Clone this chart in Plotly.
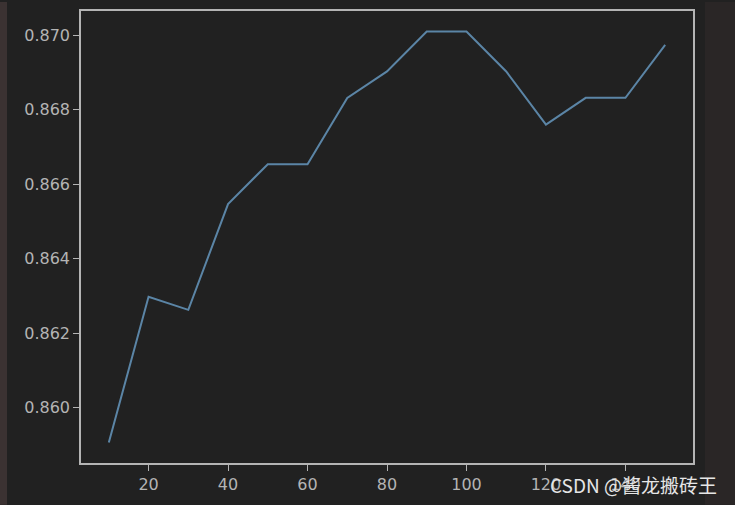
import plotly.graph_objects as go

n_estimators = [10, 20, 30, 40, 50, 60, 70, 80, 90, 100, 110, 120, 130, 140, 150]
scores = [0.85907, 0.86298, 0.86263, 0.86547, 0.86654, 0.86654, 0.86832, 0.86903,
          0.87010, 0.87010, 0.86903, 0.86760, 0.86832, 0.86832, 0.86974]
x_ticks = [20, 40, 60, 80, 100, 120, 140]
y_ticks = [0.860, 0.862, 0.864, 0.866, 0.868, 0.870]

BG = "#212121"
AX = "#b4b4b4"

fig = go.Figure()
fig.add_trace(go.Scatter(x=n_estimators, y=scores, mode="lines",
                         line=dict(color="#5b85a6", width=2), showlegend=False))

L, R, T, B = 81, 42, 9, 42
W, H = 735, 505
pw, ph = W - L - R, H - T - B

def px(x):
    return (x - L) / pw

def py(y):
    return (H - B - y) / ph

shapes = [
    dict(type="rect", xref="paper", yref="paper", x0=px(0), x1=px(7), y0=py(H), y1=py(0),
         fillcolor="#3b3232", line=dict(width=0), layer="below"),
    dict(type="rect", xref="paper", yref="paper", x0=px(705), x1=px(W), y0=py(H), y1=py(0),
         fillcolor="#2a2626", line=dict(width=0), layer="below"),
]

fig.update_layout(
    width=W, height=H,
    margin=dict(l=L, r=R, t=T, b=B, pad=0),
    paper_bgcolor=BG, plot_bgcolor=BG,
    font=dict(family="DejaVu Sans", size=16, color=AX),
    shapes=shapes,
    xaxis=dict(range=[3, 157], tickvals=x_ticks, showgrid=False, zeroline=False,
               showline=True, linecolor=AX, linewidth=1.5, mirror=True,
               ticks="outside", ticklen=6, tickwidth=1.2, tickcolor=AX,
               tickfont=dict(family="DejaVu Sans", size=16, color=AX)),
    yaxis=dict(range=[0.858518, 0.870652], tickvals=y_ticks, tickformat=".3f",
               showgrid=False, zeroline=False,
               showline=True, linecolor=AX, linewidth=1.5, mirror=True,
               ticks="outside", ticklen=6, tickwidth=1.2, tickcolor=AX,
               tickfont=dict(family="DejaVu Sans", size=16, color=AX)),
    annotations=[dict(text="CSDN @酱龙搬砖王", xref="paper", yref="paper",
                      x=px(719), y=py(485), xanchor="right", yanchor="middle",
                      showarrow=False,
                      font=dict(family="Noto Sans CJK SC", size=19, color="#e6e6e6"))],
)

fig.write_html("out.html", config={"displayModeBar": False})

with open("out.html", "r", encoding="utf-8") as f:
    html = f.read()
html = html.replace("<body>", '<body style="margin:0;background:#212121;">', 1)
with open("out.html", "w", encoding="utf-8") as f:
    f.write(html)
